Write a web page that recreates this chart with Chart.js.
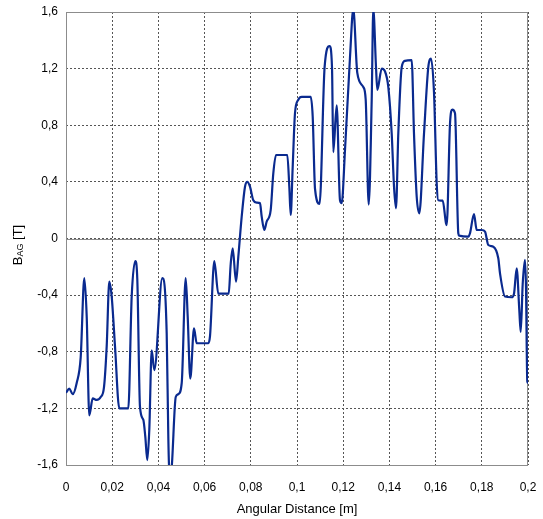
<!DOCTYPE html>
<html>
<head>
<meta charset="utf-8">
<script src="https://cdn.jsdelivr.net/npm/chart.js@4/dist/chart.umd.min.js"></script>
<style>
  html, body { margin: 0; padding: 0; background: #fff; }
  #wrap { width: 543px; height: 519px; }
</style>
</head>
<body>
<div id="wrap"><canvas id="grafico"></canvas></div>
<script>
// Distancia angular [m]
const distancia = [
  0.0000, 0.00143, 0.0029, 0.00463, 0.00636, 0.00792, 0.00896, 0.01009, 0.01156, 0.01329,
  0.01502, 0.01645, 0.01762, 0.01874, 0.01978, 0.02121, 0.02307, 0.02697, 0.02844, 0.0300,
  0.03087, 0.03203, 0.03346, 0.03433, 0.03519, 0.03606, 0.0371, 0.03823, 0.04169, 0.04359,
  0.04429, 0.04459, 0.04515, 0.04575, 0.0475, 0.0486, 0.0501, 0.05182, 0.05268, 0.05381,
  0.05541, 0.05658, 0.0616, 0.06234, 0.0642, 0.06593, 0.07043, 0.0713, 0.07216, 0.0736,
  0.07459, 0.07606, 0.07749, 0.07848, 0.07965, 0.08108, 0.08255, 0.08398, 0.08472, 0.08584,
  0.08688, 0.08861, 0.08974, 0.09091, 0.0958, 0.09667, 0.09727, 0.09814, 0.09913, 0.10056,
  0.10203, 0.10593, 0.10680, 0.10780, 0.10978, 0.11195, 0.11411, 0.11515, 0.11571, 0.11718,
  0.11861, 0.11935, 0.12078, 0.12294, 0.12437, 0.1261, 0.1287, 0.12974, 0.13104, 0.13234,
  0.13303, 0.1342, 0.13477, 0.13667, 0.1381, 0.13953, 0.141, 0.142, 0.14286, 0.14385,
  0.14532, 0.14675, 0.14965, 0.15065, 0.15182, 0.15294, 0.15498, 0.15684, 0.158, 0.15931,
  0.16048, 0.16117, 0.16307, 0.1645, 0.16481, 0.16623, 0.16723, 0.1684, 0.16983, 0.17026,
  0.17416, 0.17489, 0.17662, 0.17779, 0.17996, 0.18139, 0.18281, 0.18498, 0.18714, 0.18788,
  0.19004, 0.19294, 0.19394, 0.1951, 0.19623, 0.19684, 0.19771, 0.1987, 0.19913, 0.1997,
  0.2000
];

// Densidad de flujo en el entrehierro B_AG [T]
const campoB = [
  -1.09, -1.06, -1.10, -1.02, -0.84, -0.28, -0.55, -1.25, -1.13, -1.14,
  -1.12, -1.05, -0.76, -0.305, -0.41, -0.76, -1.20, -1.20, -0.41, -0.16,
  -0.29, -1.19, -1.28, -1.40, -1.565, -1.35, -0.79, -0.93, -0.28, -0.67,
  -1.40, -1.60, -1.68, -1.62, -1.12, -1.10, -1.02, -0.28, -0.55, -0.99,
  -0.635, -0.74, -0.74, -0.69, -0.16, -0.39, -0.39, -0.18, -0.07, -0.305,
  -0.13, 0.154, 0.366, 0.40, 0.366, 0.27, 0.253, 0.25, 0.154, 0.06,
  0.12, 0.20, 0.46, 0.59, 0.59, 0.366, 0.166, 0.507, 0.885, 0.98,
  1.00, 1.00, 0.86, 0.35, 0.244, 1.21, 1.36, 1.21, 0.61, 0.94,
  0.27, 0.25, 0.625, 1.28, 1.62, 1.17, 1.07, 0.98, 0.24, 0.98,
  1.62, 1.21, 1.05, 1.20, 1.18, 1.07, 0.74, 0.366, 0.213, 0.74,
  1.21, 1.255, 1.26, 0.74, 0.295, 0.178, 0.74, 1.21, 1.27, 1.03,
  0.39, 0.27, 0.267, 0.107, 0.095, 0.81, 0.91, 0.885, 0.037, 0.02,
  0.013, 0.037, 0.173, 0.06, 0.06, 0.048, -0.046, -0.058, -0.14, -0.246,
  -0.41, -0.415, -0.39, -0.21, -0.505, -0.66, -0.32, -0.15, -0.34, -1.01,
  -1.02
];

// Marcas de los ejes
const ticksX = [0, 0.02, 0.04, 0.06, 0.08, 0.1, 0.12, 0.14, 0.16, 0.18, 0.2];
const ticksY = [-1.6, -1.2, -0.8, -0.4, 0, 0.4, 0.8, 1.2, 1.6];

const fuente = 'Liberation Sans, Arial, sans-serif';

function formatoComa(v, dec) {
    const r = Math.round(v * Math.pow(10, dec)) / Math.pow(10, dec);
    return String(r).replace('.', ',');
}

// Marco, linea del cero y titulo del eje Y con subindice
const pluginMarco = {
    id: 'marco',
    beforeDatasetsDraw(chart) {
        const { ctx, chartArea: a, scales } = chart;
        ctx.save();
        ctx.strokeStyle = '#8c8c8c';
        ctx.lineWidth = 1;
        ctx.setLineDash([]);
        ctx.strokeRect(a.left + 0.5, a.top + 0.5, a.right - a.left - 1, a.bottom - a.top);
        const y0 = Math.round(scales.y.getPixelForValue(0)) + 0.5;
        ctx.beginPath();
        ctx.moveTo(a.left, y0);
        ctx.lineTo(a.right, y0);
        ctx.stroke();
        ctx.restore();
    },
    afterDraw(chart) {
        const ctx = chart.ctx;
        ctx.save();
        ctx.translate(18, 245);
        ctx.rotate(-Math.PI / 2);
        ctx.fillStyle = '#000';
        ctx.textBaseline = 'middle';
        const fGrande = '13px ' + fuente;
        const fPeq = '9px ' + fuente;
        ctx.font = fGrande;
        const wB = ctx.measureText('B').width;
        const wT = ctx.measureText(' [T]').width;
        ctx.font = fPeq;
        const wAG = ctx.measureText('AG').width;
        let x = -(wB + wAG + wT) / 2;
        ctx.font = fGrande;
        ctx.fillText('B', x, 0);
        x += wB;
        ctx.font = fPeq;
        ctx.fillText('AG', x, 3);
        x += wAG;
        ctx.font = fGrande;
        ctx.fillText(' [T]', x, 0);
        ctx.restore();
    }
};

const puntos = distancia.map((d, i) => ({ x: d, y: campoB[i] }));

new Chart(document.getElementById('grafico'), {
    type: 'line',
    data: {
        datasets: [{
            data: puntos,
            borderColor: '#0a2a8f',
            borderWidth: 2.2,
            pointRadius: 0,
            cubicInterpolationMode: 'monotone',
            fill: false
        }]
    },
    options: {
        responsive: true,
        maintainAspectRatio: false,
        animation: false,
        layout: { padding: { top: 12, right: 15, left: 0, bottom: 0 } },
        plugins: { legend: { display: false }, tooltip: { enabled: false } },
        scales: {
            x: {
                type: 'linear',
                min: 0,
                max: 0.2,
                afterBuildTicks: (scale) => { scale.ticks = ticksX.map(v => ({ value: v })); },
                afterFit: (scale) => {
                    scale.height = 54;
                    scale.paddingLeft = 0;
                    scale.paddingRight = 0;
                },
                ticks: {
                    color: '#000',
                    font: { family: fuente, size: 12 },
                    padding: 15,
                    maxRotation: 0,
                    callback: (v) => formatoComa(v, 2)
                },
                grid: { color: '#555', drawTicks: false },
                border: { display: false, dash: [2, 2] },
                title: {
                    display: true,
                    text: 'Angular Distance [m]',
                    color: '#000',
                    font: { family: fuente, size: 13 },
                    padding: { top: 0, bottom: 2 }
                }
            },
            y: {
                type: 'linear',
                min: -1.6,
                max: 1.6,
                afterBuildTicks: (scale) => { scale.ticks = ticksY.map(v => ({ value: v })); },
                afterFit: (scale) => {
                    scale.width = 66;
                    scale.paddingTop = 0;
                    scale.paddingBottom = 0;
                },
                ticks: {
                    color: '#000',
                    font: { family: fuente, size: 12 },
                    padding: 8,
                    callback: (v) => formatoComa(v, 1)
                },
                grid: { color: '#555', drawTicks: false },
                border: { display: false, dash: [2, 2] }
            }
        }
    },
    plugins: [pluginMarco]
});
</script>
</body>
</html>
